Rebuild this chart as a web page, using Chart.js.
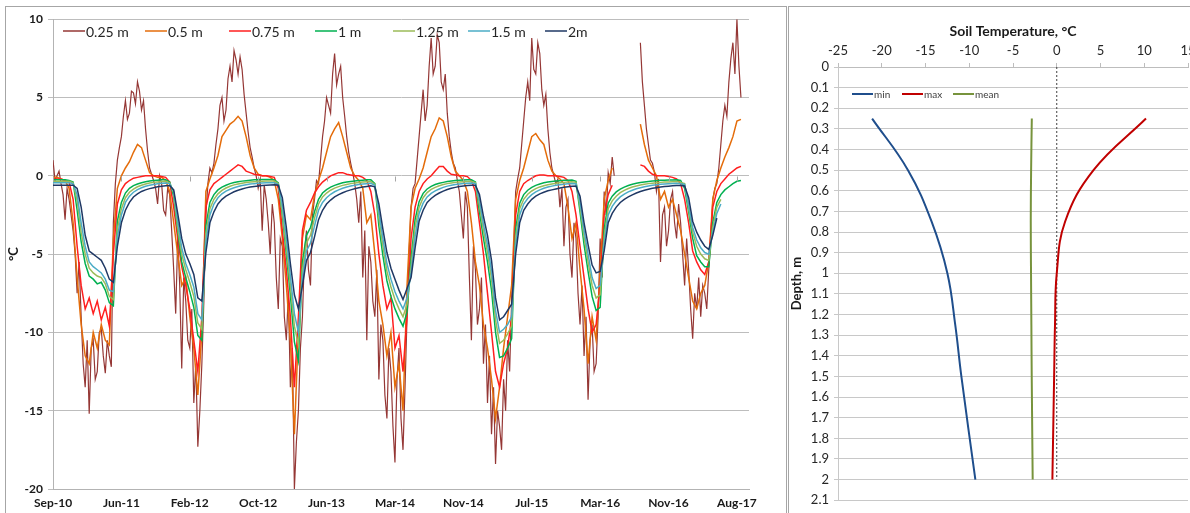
<!DOCTYPE html>
<html>
<head>
<meta charset="utf-8">
<script src="https://cdn.jsdelivr.net/npm/chart.js@4.4.1/dist/chart.umd.min.js"></script>
<style>
  html, body { margin: 0; padding: 0; background: #fff; }
  body { width: 1190px; height: 513px; position: relative; overflow: hidden; }
  .panel { position: absolute; border: 1px solid #a6a6a6; border-bottom: none; overflow: hidden; background: #fff; }
  #leftPanel { left: 5px; top: 6px; width: 780px; height: 520px; }
  #rightPanel { left: 788px; top: 6px; width: 420px; height: 520px; }
  canvas { position: absolute; left: 0; top: 0; }
</style>
</head>
<body>
<div class="panel" id="leftPanel"><canvas id="seriesChart" width="780" height="506"></canvas></div>
<div class="panel" id="rightPanel"><canvas id="profileChart" width="420" height="506"></canvas></div>
<script>
// sensor depths; readings every 15 days from Sep 2010 (0.25 m every 7.5 days)
const depthNames = ['0.25 m', '0.5 m', '0.75 m', '1 m', '1.25 m', '1.5 m', '2m'];
const depthColors = ['#953735', '#e46c0a', '#ff1f1f', '#00b050', '#9bbb59', '#4bacc6', '#1f3864'];
const tickLabels = ['Sep-10', 'Jun-11', 'Feb-12', 'Oct-12', 'Jun-13', 'Mar-14', 'Nov-14', 'Jul-15', 'Mar-16', 'Nov-16', 'Aug-17'];
const SAMPLES_PER_TICK = 17;
const LAST_SAMPLE = 173;

const t025 = [
  1.0, -0.3, 0.0, 0.3, -0.5, -1.2, -2.8, -0.8, -1.5, -2.5,
  -3.5, -5.0, -7.5, -5.5, -9.0, -12.0, -13.5, -10.5, -15.2, -11.0,
  -10.5, -13.0, -12.5, -10.0, -9.8, -11.5, -12.6, -10.5, -11.5, -12.2,
  -3.0, -0.5, 1.0, 1.8, 2.5, 3.8, 4.8, 3.6, 4.0, 5.4,
  5.3, 4.6, 6.0, 5.4, 4.2, 4.8, 3.0, 1.6, 0.5, 0.1,
  -0.3, -0.8, -1.8, 0.0, -0.5, -2.2, -2.5, -0.8, -1.2, -3.5,
  -6.0, -8.8, -4.0, -7.0, -12.3, -6.5, -8.0, -10.5, -11.0, -8.5,
  -14.5, -12.0, -17.3, -15.0, -12.0, -8.0, -2.5, -0.5, 0.5, 0.2,
  0.8, 2.0, 3.0, 4.5, 5.0, 3.5, 4.2, 6.2, 7.0, 6.0,
  8.0, 7.4, 6.5, 7.6, 6.8, 5.2, 4.0, 2.8, 1.8, 1.2,
  0.5, 0.0, -0.8, -0.2, -3.5, -0.6, -1.5, -3.0, -5.0, -1.8,
  -3.0, -6.5, -8.5, -4.0, -4.5, -9.0, -10.5, -7.5, -13.5, -11.0,
  -20.0, -17.0, -15.0, -11.0, -9.0, -5.0, -3.5, -6.0, -7.0, -2.5,
  -1.5, -0.3, -0.5, 1.0, 2.5, 3.5, 5.0, 4.5, 4.0, 6.5,
  7.8, 5.8, 6.5, 7.0, 5.0, 3.8, 2.5, 1.5, 0.8, 0.2,
  -0.5, -1.5, -3.0, -1.0, -6.5, -3.5, -10.5, -4.5, -5.5, -8.0,
  -9.0, -6.0, -13.0, -9.5, -10.5, -14.0, -15.5, -11.0, -12.5, -16.0,
  -18.3, -13.0, -11.0, -15.5, -17.5, -13.5, -9.0, -5.0, -2.0, -0.8,
  -0.5, 1.0, 2.5, 4.0, 5.5, 3.5, 4.5, 7.0, 8.8, 6.5,
  7.0, 9.0, 8.5, 6.0, 5.5, 6.5, 4.0, 2.5, 1.5, 0.8,
  0.5, -0.3, -1.0, -2.5, -4.0, -1.0, -2.0, -6.5, -10.5, -4.5,
  -6.0, -9.5, -8.5, -6.5, -12.0, -9.5, -14.5, -11.5, -16.5, -13.5,
  -18.4, -15.0, -16.0, -17.5, -13.0, -15.0, -10.5, -12.5, -8.0, -5.0,
  -1.0, -0.2, 0.5, 2.0, 3.5, 5.0, 6.0, 4.8, 8.8, 6.8,
  6.5, 8.5, 7.8, 5.5, 4.5, 5.2, 3.0, 1.5, 0.5, 0.0,
  -0.5, -0.2, -2.0, -0.8, -4.5, -2.0, -1.5, -5.0, -6.5, -3.0,
  -4.0, -7.5, -9.5, -7.0, -11.5, -9.0, -14.3, -10.5, -9.5, -12.5,
  -12.0, -9.0, -4.0, -6.5, -1.0, -2.5, 0.2, -0.5, 1.2, 0.0,
  null, null, null, null, null, null, null, null, null, null,
  null, null, 8.5, 6.0, 4.5, 3.0, 2.0, 1.0, 0.8, 0.2,
  -1.0, -0.2, -5.5, -2.5, -2.0, -4.5, -3.5, -1.5, -1.0, -3.0,
  -4.0, -1.8, -3.0, -5.0, -7.0, -4.0, -6.0, -8.5, -10.4, -7.5,
  -8.5, -6.5, -9.0, -7.0, -7.5, -8.5, -6.0, -4.0, -1.5, -0.8,
  -0.5, 0.5, 2.0, 3.5, 4.5, 3.8, 6.0, 7.5, 8.5, 6.5,
  10.0, 7.0, 5.0
];
const t05 = [
  -0.1, -0.1, -0.2, -0.3, -0.8, -3.0, -6.5, -9.5, -11.5, -12.0,
  -10.0, -11.0, -9.5, -10.5, -10.8, -4.0, -0.8, 0.0, 0.5, 0.9,
  1.5, 2.0, 1.8, 1.0, 0.2, 0.0, -0.1, -0.1, -0.3, -1.0,
  -3.0, -5.0, -7.0, -6.5, -9.0, -11.0, -14.0, -10.0, -1.0, -0.2,
  0.5, 1.3, 2.5, 2.9, 3.3, 3.5, 3.8, 3.5, 2.5, 1.3,
  0.5, 0.1, 0.0, 0.0, -0.1, -0.3, -1.5, -4.0, -7.0, -10.5,
  -16.5, -10.0, -4.0, -2.5, -2.8, -1.2, -0.3, 0.5, 1.5, 2.5,
  3.0, 3.4, 2.5, 1.5, 0.5, 0.0, -0.3, -0.8, -3.0, -2.5,
  -5.0, -8.0, -9.5, -11.5, -10.0, -13.5, -12.0, -15.0, -7.0, -2.0,
  -0.8, -0.2, 0.5, 1.5, 2.5, 3.0, 3.7, 3.5, 2.5, 1.2,
  0.3, 0.0, -0.3, -1.0, -3.0, -5.5, -7.0, -9.5, -11.0, -13.0,
  -15.5, -13.5, -11.0, -9.0, -7.0, -1.5, -0.3, 0.5, 1.5, 2.5,
  2.7, 2.3, 2.0, 1.0, 0.3, 0.0, -0.2, -0.5, -2.0, -4.0,
  -3.0, -6.0, -8.5, -12.0, -9.0, -10.5, -6.0, -1.5, -0.3, 0.5,
  null, null, null, null, null, null, 3.3, 2.0, 1.0, 0.5,
  0.0, -1.5, -1.0, -2.0, -1.5, -2.5, -3.5, -5.0, -6.5, -8.0,
  -8.5, -7.5, -7.0, -5.5, -1.5, -0.3, 0.5, 1.2, 1.8, 2.5,
  3.5, 3.6
];
const t075 = [
  -0.2, -0.2, -0.2, -0.3, -0.4, -1.5, -4.5, -7.0, -8.5, -7.8,
  -8.8, -8.0, -9.2, -8.4, -9.6, -5.0, -1.8, -0.9, -0.5, -0.3,
  -0.15, -0.1, -0.05, 0.0, 0.0, 0.0, 0.0, -0.05, -0.1, -0.4,
  -2.0, -4.0, -5.8, -7.0, -8.5, -10.5, -12.5, -9.0, -2.0, -0.9,
  -0.5, -0.3, -0.1, 0.1, 0.3, 0.5, 0.7, 0.6, 0.3, 0.2,
  0.1, 0.05, 0.0, 0.0, -0.05, -0.1, -0.8, -3.5, -6.0, -9.0,
  -13.5, -9.0, -3.5, -2.2, -1.7, -1.1, -0.7, -0.4, -0.2, 0.0,
  0.1, 0.2, 0.2, 0.1, 0.05, 0.0, 0.0, -0.1, -0.3, -1.0,
  -2.5, -5.0, -7.0, -8.5, -7.8, -11.0, -10.2, -12.5, -9.0, -4.0,
  -2.0, -1.0, -0.5, -0.2, 0.0, 0.3, 0.6, 0.6, 0.3, 0.1,
  0.05, 0.0, 0.0, -0.05, -0.3, -1.0, -3.0, -5.0, -7.5, -10.0,
  -12.5, -13.5, -12.0, -11.0, -9.0, -2.5, -1.0, -0.5, -0.3, -0.15,
  0.0, 0.05, 0.05, 0.0, 0.0, 0.0, -0.05, -0.1, -0.3, -1.0,
  -2.5, -4.5, -6.5, -8.5, -10.0, -9.5, -7.0, -2.5, -1.2, -0.6,
  null, null, null, null, null, null, 0.7, 0.6, 0.3, 0.1,
  0.0, 0.0, 0.0, -0.05, -0.1, -0.2, -0.5, -1.5, -3.0, -4.8,
  -5.5, -6.0, -6.3, -5.5, -2.0, -1.0, -0.5, -0.2, 0.1, 0.3,
  0.5, 0.6
];
const t1 = [
  -0.25, -0.25, -0.25, -0.25, -0.3, -0.4, -2.2, -4.2, -5.6, -6.4,
  -6.6, -6.9, -6.8, -7.3, -8.1, -8.3, -2.9, -1.7, -1.1, -0.8,
  -0.63, -0.52, -0.44, -0.38, -0.33, -0.3, -0.28, -0.26, -0.25, -0.4,
  -1.3, -3.5, -5.5, -6.5, -7.4, -8.4, -10.2, -10.5, -3.2, -1.7,
  -1.2, -0.9, -0.72, -0.6, -0.5, -0.43, -0.38, -0.34, -0.31, -0.28,
  -0.26, -0.25, -0.24, -0.23, -0.23, -0.25, -0.45, -2.5, -5.0, -7.6,
  -10.6, -11.8, -5.5, -3.8, -3.3, -2.3, -1.5, -1.1, -0.88, -0.72,
  -0.61, -0.52, -0.45, -0.4, -0.36, -0.33, -0.3, -0.28, -0.26, -0.26,
  -0.5, -3.2, -5.1, -6.7, -7.7, -8.5, -9.1, -9.6, -8.7, -5.3,
  -2.8, -1.65, -1.12, -0.84, -0.67, -0.56, -0.48, -0.42, -0.37, -0.33,
  -0.3, -0.28, -0.27, -0.26, -0.26, -0.4, -2.3, -4.0, -5.5, -7.3,
  -10.0, -11.6, -11.5, -11.0, -10.4, -3.4, -1.75, -1.2, -0.92, -0.74,
  -0.61, -0.52, -0.45, -0.4, -0.36, -0.33, -0.31, -0.29, -0.28, -0.27,
  -0.35, -2.3, -4.4, -6.1, -7.7, -8.6, -8.4, -3.4, -1.75, -1.3,
  -1.03, -0.85, -0.72, -0.62, -0.54, -0.48, -0.43, -0.39, -0.36, -0.33,
  -0.31, -0.29, -0.28, -0.27, -0.27, -0.26, -0.3, -0.8, -2.3, -4.0,
  -5.1, -5.5, -5.8, -5.8, -3.0, -1.7, -1.2, -0.9, -0.7, -0.5,
  -0.35, -0.3
];
const t125 = [
  -0.35, -0.35, -0.35, -0.35, -0.35, -0.45, -1.6, -3.6, -5.0, -5.9,
  -6.2, -6.4, -6.5, -6.9, -7.7, -7.9, -3.4, -2.1, -1.4, -1.05,
  -0.85, -0.7, -0.6, -0.52, -0.46, -0.42, -0.39, -0.37, -0.35, -0.45,
  -1.1, -3.3, -5.0, -6.0, -6.8, -7.7, -9.4, -9.8, -3.7, -2.1,
  -1.5, -1.15, -0.93, -0.78, -0.67, -0.58, -0.52, -0.47, -0.43, -0.4,
  -0.38, -0.36, -0.35, -0.34, -0.33, -0.33, -0.5, -2.3, -4.6, -7.0,
  -9.6, -10.8, -6.0, -4.3, -3.8, -2.7, -1.8, -1.35, -1.1, -0.92,
  -0.79, -0.69, -0.61, -0.55, -0.5, -0.46, -0.43, -0.4, -0.38, -0.37,
  -0.55, -2.7, -4.5, -6.1, -7.1, -7.9, -8.5, -9.0, -8.2, -5.8,
  -3.3, -2.0, -1.4, -1.07, -0.87, -0.74, -0.64, -0.56, -0.5, -0.46,
  -0.42, -0.4, -0.38, -0.36, -0.35, -0.45, -1.9, -3.5, -4.9, -6.6,
  -9.2, -10.7, -10.5, -10.1, -9.6, -3.9, -2.1, -1.5, -1.18, -0.97,
  -0.82, -0.71, -0.63, -0.57, -0.52, -0.48, -0.45, -0.42, -0.4, -0.38,
  -0.42, -2.0, -3.9, -5.5, -7.0, -7.8, -7.6, -3.9, -2.1, -1.6,
  -1.3, -1.08, -0.93, -0.81, -0.72, -0.65, -0.59, -0.54, -0.5, -0.47,
  -0.44, -0.42, -0.4, -0.39, -0.38, -0.37, -0.42, -0.5, -2.1, -3.6,
  -4.5, -5.0, -5.3, -5.4, -3.3, -2.0, -1.5, null, null, null,
  null, null
];
const t15 = [
  -0.45, -0.45, -0.45, -0.45, -0.45, -0.5, -1.2, -3.0, -4.5, -5.5,
  -5.8, -6.0, -6.2, -6.6, -7.3, -7.4, -3.9, -2.5, -1.7, -1.3,
  -1.05, -0.88, -0.76, -0.67, -0.6, -0.55, -0.51, -0.48, -0.46, -0.5,
  -1.0, -2.9, -4.6, -5.6, -6.3, -7.1, -8.8, -9.2, -4.2, -2.5,
  -1.8, -1.4, -1.15, -0.98, -0.86, -0.76, -0.68, -0.62, -0.57, -0.53,
  -0.5, -0.48, -0.46, -0.45, -0.44, -0.44, -0.55, -1.9, -4.0, -6.4,
  -8.8, -10.0, -6.5, -4.8, -4.3, -3.2, -2.2, -1.7, -1.4, -1.18,
  -1.02, -0.9, -0.8, -0.72, -0.65, -0.6, -0.56, -0.52, -0.5, -0.48,
  -0.6, -2.3, -4.0, -5.6, -6.6, -7.4, -8.0, -8.5, -7.8, -6.2,
  -3.9, -2.4, -1.75, -1.35, -1.12, -0.96, -0.84, -0.74, -0.66, -0.6,
  -0.55, -0.52, -0.49, -0.47, -0.46, -0.5, -1.6, -3.1, -4.4, -6.1,
  -8.6, -10.0, -9.8, -9.5, -9.0, -4.4, -2.5, -1.8, -1.45, -1.2,
  -1.03, -0.9, -0.8, -0.72, -0.66, -0.61, -0.57, -0.54, -0.51, -0.49,
  -0.5, -1.7, -3.5, -5.0, -6.5, -7.2, -7.0, -4.3, -2.5, -1.95,
  -1.6, -1.35, -1.17, -1.03, -0.92, -0.83, -0.76, -0.7, -0.65, -0.61,
  -0.57, -0.54, -0.52, -0.5, -0.49, -0.48, -0.5, -0.55, -1.9, -3.3,
  -4.1, -4.6, -4.9, -5.0, -3.6, -2.4, -1.8, null, null, null,
  null, null
];
const t2 = [
  -0.6, -0.6, -0.6, -0.6, -0.6, -0.6, -0.8, -2.0, -3.8, -4.8,
  -5.0, -5.2, -5.4, -5.9, -6.6, -6.8, -4.5, -3.0, -2.2, -1.7,
  -1.35, -1.15, -1.0, -0.9, -0.82, -0.76, -0.7, -0.66, -0.63, -0.62,
  -0.9, -2.4, -4.0, -5.0, -5.6, -6.3, -7.8, -8.0, -4.9, -3.0,
  -2.3, -1.8, -1.5, -1.3, -1.15, -1.02, -0.92, -0.84, -0.77, -0.72,
  -0.68, -0.65, -0.62, -0.6, -0.58, -0.57, -0.6, -1.4, -3.3, -5.6,
  -7.6, -8.5, -7.0, -5.4, -4.9, -3.9, -2.8, -2.2, -1.8, -1.55,
  -1.35, -1.2, -1.08, -0.98, -0.9, -0.83, -0.77, -0.72, -0.68, -0.64,
  -0.7, -1.8, -3.4, -4.9, -5.9, -6.6, -7.3, -7.9, -7.2, -6.5,
  -4.6, -2.9, -2.2, -1.7, -1.45, -1.25, -1.1, -0.98, -0.88, -0.8,
  -0.74, -0.69, -0.65, -0.62, -0.6, -0.6, -1.2, -2.6, -3.8, -5.4,
  -7.8, -9.2, -9.0, -8.6, -8.2, -5.0, -3.0, -2.2, -1.8, -1.5,
  -1.3, -1.15, -1.05, -0.96, -0.9, -0.84, -0.78, -0.73, -0.7, -0.67,
  -0.66, -1.3, -3.0, -4.4, -5.7, -6.2, -6.1, -4.8, -3.0, -2.4,
  -2.0, -1.7, -1.5, -1.35, -1.22, -1.1, -1.0, -0.92, -0.86, -0.8,
  -0.76, -0.72, -0.69, -0.66, -0.64, -0.62, -0.62, -0.65, -1.4, -2.9,
  -3.6, -4.1, -4.5, -4.7, -3.8, -2.7, null, null, null, null,
  null, null
];
const depthSeries = [t025, t05, t075, t1, t125, t15, t2];
const sampleSteps = [0.5, 1, 1, 1, 1, 1, 1];

// depth profile summary
const profileDepths = [0.25, 0.5, 0.75, 1, 1.25, 1.5, 2];
const minTemps = [-21.1, -17.0, -14.3, -12.5, -11.6, -10.9, -9.3];
const maxTemps = [10.2, 4.2, 0.95, 0.0, -0.2, -0.3, -0.5];
const meanTemps = [-2.85, -2.93, -2.97, -2.94, -2.9, -2.86, -2.75];
const profileNames = ['min', 'max', 'mean'];
const profileColors = ['#1f4e8c', '#c00000', '#77933c'];

Chart.defaults.font.family = 'Lato, "Liberation Sans", sans-serif';
Chart.defaults.color = '#1a1a1a';
Chart.defaults.animation = false;
Chart.defaults.plugins.tooltip.enabled = false;
Chart.defaults.plugins.legend.display = false;

// legend drawn inside the plot area, items at fixed x offsets
const innerLegend = {
  id: 'innerLegend',
  afterDraw(chart, args, opts) {
    const ctx = chart.ctx;
    ctx.save();
    ctx.font = opts.font;
    ctx.fillStyle = opts.textColor;
    ctx.textBaseline = 'middle';
    opts.items.forEach((ds, i) => {
      const x = opts.x[i];
      ctx.strokeStyle = chart.data.datasets[ds].borderColor;
      ctx.lineWidth = opts.lineWidth;
      ctx.beginPath();
      ctx.moveTo(x, opts.y);
      ctx.lineTo(x + opts.sample, opts.y);
      ctx.stroke();
      ctx.fillText(chart.data.datasets[ds].label, x + opts.sample + 1, opts.y + 1);
    });
    ctx.restore();
  }
};

// short tick marks where the horizontal axis crosses a given value
const crossTicks = {
  id: 'crossTicks',
  afterDatasetsDraw(chart, args, opts) {
    const xs = chart.scales.x;
    const y = Math.round(chart.scales.y.getPixelForValue(opts.at)) + 0.5;
    const ctx = chart.ctx;
    ctx.save();
    ctx.strokeStyle = opts.color;
    ctx.lineWidth = 1;
    xs.ticks.forEach((t) => {
      const x = Math.round(xs.getPixelForValue(t.value)) + 0.5;
      ctx.beginPath();
      ctx.moveTo(x, y + opts.from);
      ctx.lineTo(x, y + opts.to);
      ctx.stroke();
    });
    ctx.restore();
  }
};

new Chart(document.getElementById('seriesChart'), {
  type: 'line',
  data: {
    datasets: depthSeries.map((values, i) => ({
      label: depthNames[i],
      data: values.map((v, k) => ({ x: k * sampleSteps[i], y: v })),
      borderColor: depthColors[i],
      borderWidth: i === 0 ? 1.2 : 1.5,
      pointRadius: 0,
      tension: 0,
      order: depthSeries.length - i,
    })),
  },
  options: {
    responsive: false,
    layout: { padding: { top: 8, right: 37, bottom: 0, left: 0 } },
    scales: {
      x: {
        type: 'linear', min: 0, max: LAST_SAMPLE,
        grid: { display: false, drawTicks: false },
        border: { display: true, color: '#b3b3b3' },
        ticks: {
          stepSize: SAMPLES_PER_TICK, includeBounds: false, autoSkip: false,
          maxRotation: 0, minRotation: 0, padding: 7,
          font: { size: 12, weight: 'bold' }, color: '#1a1a1a',
          callback: (v) => tickLabels[v / SAMPLES_PER_TICK] || '',
        },
        afterFit: (scale) => { scale.height = 24; },
      },
      y: {
        min: -20, max: 10,
        ticks: { stepSize: 5, padding: 5, font: { size: 12, weight: 'bold' }, color: '#1a1a1a' },
        grid: { color: '#bdbdbd', tickLength: 5 },
        border: { display: true, color: '#b3b3b3' },
        title: { display: true, text: '°C', font: { size: 13, weight: 'bold' }, padding: { top: 0, bottom: 0 } },
        afterFit: (scale) => { scale.width = 47; },
      },
    },
    plugins: {
      innerLegend: {
        items: [0, 1, 2, 3, 4, 5, 6],
        x: [57, 139, 223, 309, 387, 462, 539],
        y: 24, sample: 22, lineWidth: 1.5,
        font: '14px Lato, "Liberation Sans", sans-serif', textColor: '#262626',
      },
      crossTicks: { at: 0, from: 0, to: 5, color: '#a6a6a6' },
    },
  },
  plugins: [innerLegend, crossTicks],
});

const toPoints = (temps) => temps.map((t, i) => ({ x: t, y: profileDepths[i] }));

new Chart(document.getElementById('profileChart'), {
  type: 'line',
  data: {
    datasets: [
      ...[minTemps, maxTemps, meanTemps].map((temps, i) => ({
        label: profileNames[i],
        data: toPoints(temps),
        borderColor: profileColors[i],
        borderWidth: 2,
        pointRadius: 0,
        tension: 0.4,
      })),
      {
        label: 'zero',
        data: [{ x: 0, y: 0 }, { x: 0, y: 2 }],
        borderColor: '#404040',
        borderWidth: 1,
        borderDash: [2, 2],
        pointRadius: 0,
      },
    ],
  },
  options: {
    responsive: false,
    layout: { padding: { top: 12, right: 21, bottom: 9, left: 0 } },
    scales: {
      x: {
        type: 'linear', position: 'top',
        min: -25, max: 15,
        ticks: { stepSize: 5, padding: 4, font: { size: 13 }, color: '#262626' },
        grid: { drawOnChartArea: false, tickLength: 4, color: '#bdbdbd' },
        border: { display: true, color: '#bdbdbd' },
        title: { display: true, text: 'Soil Temperature, °C', font: { size: 14, weight: 'bold' }, color: '#1a1a1a', padding: { top: 4, bottom: 1 } },
        afterFit: (scale) => { scale.height = 48; },
      },
      y: {
        type: 'linear', reverse: true,
        min: 0, max: 2.1,
        ticks: {
          stepSize: 0.1, autoSkip: false, padding: 5, font: { size: 13 }, color: '#262626',
          callback: (v) => String(Math.round(v * 10) / 10),
        },
        grid: { color: '#c8c8c8', tickLength: 4 },
        border: { display: true, color: '#c8c8c8' },
        title: { display: true, text: 'Depth, m', font: { size: 13, weight: 'bold' }, color: '#1a1a1a', padding: { top: 0, bottom: 0 } },
        afterFit: (scale) => { scale.width = 49; },
      },
    },
    plugins: {
      innerLegend: {
        items: [0, 1, 2],
        x: [63, 113, 164],
        y: 87, sample: 21, lineWidth: 2,
        font: '10px Lato, "Liberation Sans", sans-serif', textColor: '#404040',
      },
    },
  },
  plugins: [innerLegend],
});
</script>
</body>
</html>
